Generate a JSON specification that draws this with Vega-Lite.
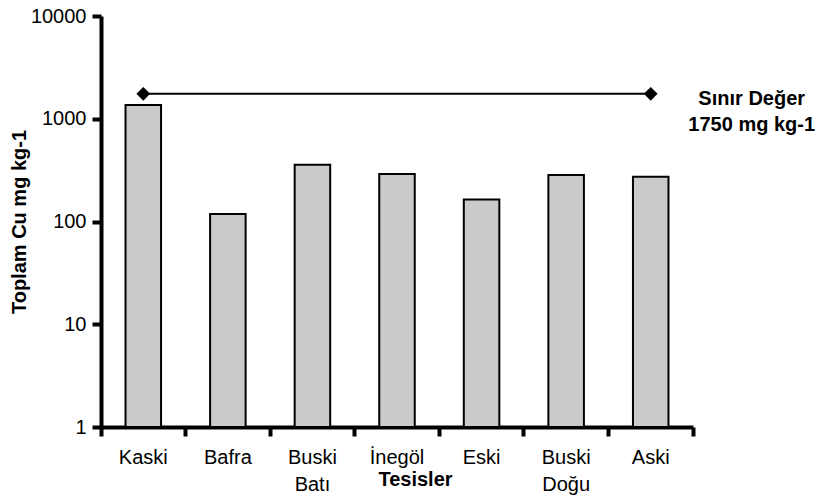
{
  "$schema": "https://vega.github.io/schema/vega-lite/v6.json",
  "width": 592,
  "height": 411,
  "autosize": {"type": "none"},
  "padding": {"left": 101, "top": 16, "right": 126, "bottom": 73},
  "background": "white",
  "config": {"view": {"stroke": null}, "font": "Liberation Sans", "axis": {"domainWidth": 4, "tickWidth": 4, "domainColor": "black", "tickColor": "black", "labelColor": "black", "titleColor": "black", "grid": false}},
  "datasets": {
    "bars": [
      {"site": "Kaski", "value": 1360},
      {"site": "Bafra", "value": 118},
      {"site": "Buski Batı", "value": 357},
      {"site": "İnegöl", "value": 290},
      {"site": "Eski", "value": 164},
      {"site": "Buski Doğu", "value": 284},
      {"site": "Aski", "value": 272}
    ],
    "limit": [
      {"site": "Kaski", "value": 1750},
      {"site": "Aski", "value": 1750}
    ],
    "note": [
      {"site": "Aski", "value": 1750, "label": "Sınır Değer\n1750 mg kg-1"}
    ]
  },
  "resolve": {"axis": {"x": "independent"}},
  "layer": [
    {
      "data": {"name": "bars"},
      "mark": {"type": "bar", "width": {"band": 0.42}, "fill": "#cacaca", "stroke": "black", "strokeWidth": 2},
      "encoding": {
        "x": {
          "field": "site", "type": "nominal",
          "scale": {"domain": ["Kaski", "Bafra", "Buski Batı", "İnegöl", "Eski", "Buski Doğu", "Aski"], "paddingInner": 0, "paddingOuter": 0},
          "axis": {"orient": "bottom", "labels": false, "title": null, "bandPosition": 1, "tickExtra": true, "tickSize": 9, "tickWidth": 4, "domainWidth": 4}
        },
        "y": {
          "field": "value", "type": "quantitative",
          "scale": {"type": "log", "domain": [1, 10000], "nice": false},
          "axis": {"values": [1, 10, 100, 1000, 10000], "format": "d", "labelFontSize": 20, "labelPadding": 6, "tickSize": 9, "title": "Toplam Cu mg kg-1", "titleFontSize": 20, "titleFontWeight": "bold", "titlePadding": 1}
        },
        "y2": {"datum": 1}
      }
    },
    {
      "data": {"name": "limit"},
      "mark": {"type": "line", "color": "black", "strokeWidth": 2, "point": {"shape": "diamond", "filled": true, "size": 190, "color": "black"}},
      "encoding": {
        "x": {
          "field": "site", "type": "nominal",
          "scale": {"domain": ["Kaski", "Bafra", "Buski Batı", "İnegöl", "Eski", "Buski Doğu", "Aski"], "paddingInner": 0, "paddingOuter": 0},
          "axis": {"orient": "bottom", "domain": false, "ticks": false, "labelAngle": 0, "labelFontSize": 20, "labelPadding": 20, "labelLineHeight": 27, "labelExpr": "split(datum.label, ' ')", "title": "Tesisler", "titleFontSize": 20, "titleFontWeight": "bold", "titleX": 314, "titleY": 58, "titleBaseline": "alphabetic"}
        },
        "y": {
          "field": "value", "type": "quantitative",
          "scale": {"type": "log", "domain": [1, 10000], "nice": false},
          "axis": {"values": [1, 10, 100, 1000, 10000], "format": "d", "labelFontSize": 20, "labelPadding": 6, "tickSize": 9, "title": "Toplam Cu mg kg-1", "titleFontSize": 20, "titleFontWeight": "bold", "titlePadding": 1}
        }
      }
    },
    {
      "data": {"name": "note"},
      "mark": {"type": "text", "fontSize": 20, "fontWeight": "bold", "color": "black", "align": "center", "baseline": "middle", "lineBreak": "\n", "lineHeight": 26, "dx": 101, "dy": 5},
      "encoding": {
        "x": {
          "field": "site", "type": "nominal",
          "scale": {"domain": ["Kaski", "Bafra", "Buski Batı", "İnegöl", "Eski", "Buski Doğu", "Aski"], "paddingInner": 0, "paddingOuter": 0},
          "axis": null
        },
        "y": {
          "field": "value", "type": "quantitative",
          "scale": {"type": "log", "domain": [1, 10000], "nice": false},
          "axis": {"values": [1, 10, 100, 1000, 10000], "format": "d", "labelFontSize": 20, "labelPadding": 6, "tickSize": 9, "title": "Toplam Cu mg kg-1", "titleFontSize": 20, "titleFontWeight": "bold", "titlePadding": 1}
        },
        "text": {"field": "label"}
      }
    }
  ]
}
